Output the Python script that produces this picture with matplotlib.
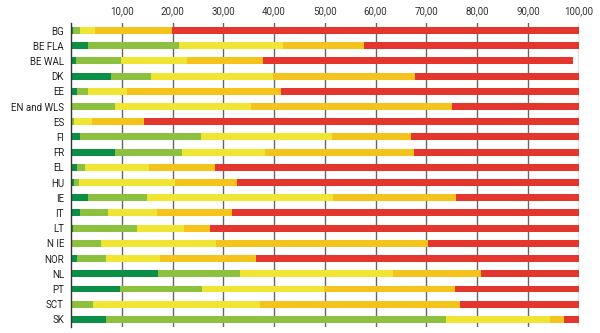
import numpy as np
import matplotlib.pyplot as plt

# countries, top to bottom
countries = ['BG', 'BE FLA', 'BE WAL', 'DK', 'EE', 'EN and WLS', 'ES', 'FI', 'FR', 'EL',
             'HU', 'IE', 'IT', 'LT', 'N IE', 'NOR', 'NL', 'PT', 'SCT', 'SK']

# share of each band (%)
dark_green = [0.3, 3.3, 1.0, 7.9, 1.2, 0.0, 0.0, 1.8, 8.7, 1.2,
              0.6, 3.3, 1.8, 0.4, 0.0, 1.2, 17.1, 9.6, 0.0, 6.9]
light_green = [1.5, 18.0, 8.8, 7.8, 2.1, 8.7, 0.6, 23.8, 13.2, 1.6,
               1.0, 11.7, 5.5, 12.6, 6.0, 5.7, 16.2, 16.2, 4.3, 66.9]
yellow = [2.9, 20.5, 13.1, 24.1, 7.7, 26.7, 3.6, 25.8, 16.3, 12.6,
          18.9, 36.6, 9.6, 9.3, 22.6, 10.6, 30.1, 24.1, 33.0, 20.5]
orange = [15.2, 15.9, 15.0, 28.0, 30.4, 39.6, 10.2, 15.5, 29.3, 12.9,
          12.3, 24.3, 14.9, 5.1, 41.8, 18.9, 17.3, 25.8, 39.3, 2.9]
red = [80.1, 42.3, 61.0, 32.2, 58.6, 25.0, 85.6, 33.1, 32.5, 71.7,
       67.2, 24.1, 68.2, 72.6, 29.6, 63.6, 19.3, 24.3, 23.4, 2.8]

ticks = [10, 20, 30, 40, 50, 60, 70, 80, 90, 100]
tick_labels = ['10,00', '20,00', '30,00', '40,00', '50,00',
               '60,00', '70,00', '80,00', '90,00', '100,00']

series = [dark_green, light_green, yellow, orange, red]
colors = ['#0B8F46', '#8DC03F', '#F1E533', '#F4C41C', '#E5362D']

plt.rcParams['font.family'] = ['Roboto', 'DejaVu Sans']

fig = plt.figure(figsize=(6, 3.33), dpi=100)
ax = fig.add_axes([0.1183, 0.018, 0.846, 0.913])

y = np.arange(len(countries))
left = np.zeros(len(countries))
for vals, col in zip(series, colors):
    vals = np.array(vals)
    ax.barh(y, vals, left=left, height=0.46, color=col, linewidth=0)
    left += vals

ax.set_xlim(0, 100)
ax.set_ylim(len(countries) - 0.5, -0.5)
ax.set_yticks(y)
ax.set_yticklabels(countries, fontsize=7, color='#222222')
ax.set_xticks(ticks)
ax.set_xticklabels(tick_labels, fontsize=7, color='#333333')
ax.xaxis.tick_top()
ax.tick_params(axis='x', length=0, pad=5)
ax.tick_params(axis='y', length=0, pad=5)

ax.set_axisbelow(True)
ax.grid(axis='x', color='#666666', linewidth=1)
for s in ['top', 'right', 'bottom']:
    ax.spines[s].set_visible(False)
ax.spines['left'].set_color('#333333')
ax.spines['left'].set_linewidth(1)

fig.savefig('out.png', dpi=100)
